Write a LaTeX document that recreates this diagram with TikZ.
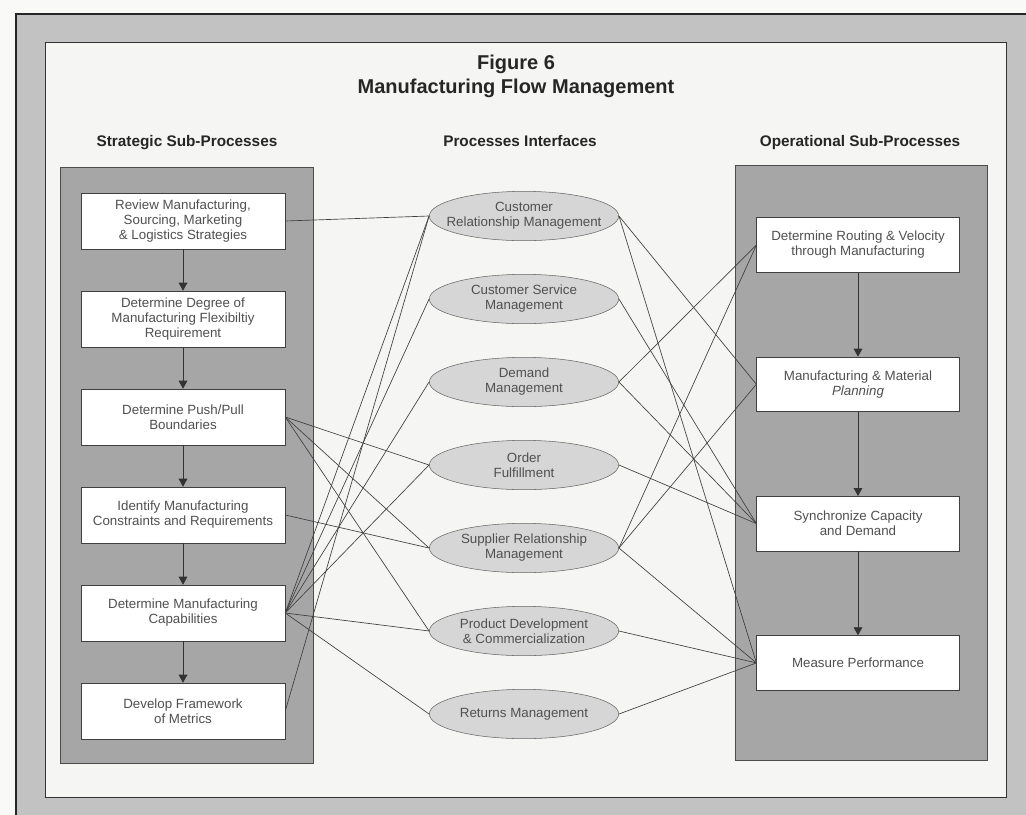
\documentclass[tikz,border=0pt]{standalone}
\usepackage{fontspec}
\setmainfont{Liberation Sans}
\usetikzlibrary{arrows.meta,shapes.geometric}
\definecolor{bandgray}{HTML}{C2C2C2}
\definecolor{panelgray}{HTML}{A6A6A6}
\definecolor{ellgray}{HTML}{D6D6D6}
\definecolor{paper}{HTML}{F5F5F3}
\definecolor{ink}{HTML}{505050}
\begin{document}
\begin{tikzpicture}[x=0.75pt,y=-0.75pt,
 sbox/.style={draw=black!75,fill=white,align=center,minimum width=153pt,minimum height=42pt,inner sep=1pt,text=ink,font=\fontsize{10}{11.3}\selectfont},
 obox/.style={sbox,minimum width=152pt,minimum height=41pt},
 iface/.style={ellipse,draw=black!60,fill=ellgray,minimum width=142pt,minimum height=37pt,inner xsep=-10pt,inner ysep=0pt,align=center,text=ink,font=\fontsize{10}{11.3}\selectfont},
 link/.style={draw=black!75,line width=0.5pt},
 flow/.style={draw=black!80,line width=0.6pt,-{Triangle[width=6.5pt,length=6pt]}},
 head/.style={text=black!85,text height=1.6ex,text depth=0.4ex,font=\bfseries\fontsize{11.5}{13}\selectfont},
 ttl/.style={text=black!85,font=\bfseries\fontsize{15}{17}\selectfont}]
\pgfmathsetmacro{\lx}{183}
\pgfmathsetmacro{\ly}{221}
\pgfmathsetmacro{\lstep}{98}
\pgfmathsetmacro{\ex}{524}
\pgfmathsetmacro{\ey}{216}
\pgfmathsetmacro{\estep}{83}
\pgfmathsetmacro{\rx}{858}
\pgfmathsetmacro{\ry}{245}
\pgfmathsetmacro{\rstep}{139.3}
\useasboundingbox(0,0)rectangle(1026,815);
% frame
\fill[paper!60!white](0,0)rectangle(1026,815);
\fill[bandgray](16,14)rectangle(1026,815);
\draw[black!85,line width=2pt](16,815)--(16,14)--(1026,14);
\draw[black!80,fill=paper,line width=0.6pt](45,42)rectangle(1006,797);
\node[ttl](t1)at(516,64){Figure 6};
\node[ttl](t2)at(516,88){Manufacturing Flow Management};
\node[head](hs)at(187,142){Strategic Sub-Processes};
\node[head](hp)at(520,142){Processes Interfaces};
\node[head](ho)at(860,142){Operational Sub-Processes};
\fill[panelgray,draw=black!70](60,167)rectangle(313,763);
\fill[panelgray,draw=black!70](735,165)rectangle(987,760);
\foreach \k/\txt in {1/{Review Manufacturing,\\Sourcing, Marketing\\\& Logistics Strategies},2/{Determine Degree of\\Manufacturing Flexibiltiy\\Requirement},3/{Determine Push/Pull\\Boundaries},4/{Identify Manufacturing\\Constraints and Requirements},5/{Determine Manufacturing\\Capabilities},6/{Develop Framework\\of Metrics}}{\node[sbox](L\k)at(\lx,{\ly+(\k-1)*\lstep}){\txt};}
\foreach \k/\txt in {1/{Customer\\Relationship Management},2/{Customer Service\\Management},3/{Demand\\Management},4/{Order\\Fulfillment},5/{Supplier Relationship\\Management},6/{Product Development\\\& Commercialization},7/{Returns Management}}{\node[iface](E\k)at(\ex,{\ey+(\k-1)*\estep}){\txt};}
\foreach \k/\txt in {1/{Determine Routing \& Velocity\\through Manufacturing},2/{Manufacturing \& Material\\\textit{Planning}},3/{Synchronize Capacity\\and Demand},4/{Measure Performance}}{\node[obox](R\k)at(\rx,{\ry+(\k-1)*\rstep}){\txt};}
\foreach \k/\n in {1/2,2/3,3/4,4/5,5/6}{\draw[flow](L\k)--(L\n);}
\foreach \k/\n in {1/2,2/3,3/4}{\draw[flow](R\k)--(R\n);}
% interfaces
\foreach \a/\b in {L1/E1,L3/E4,L3/E5,L3/E6,L4/E5,L5/E1,L5/E2,L5/E3,L5/E4,L5/E6,L5/E7,L6/E1}{\draw[link](\a.east)--(\b.west);}
\foreach \a/\b in {E1/R2,E1/R4,E2/R3,E3/R1,E3/R3,E4/R3,E5/R1,E5/R2,E5/R4,E6/R4,E7/R4}{\draw[link](\a.east)--(\b.west);}
\end{tikzpicture}
\end{document}
